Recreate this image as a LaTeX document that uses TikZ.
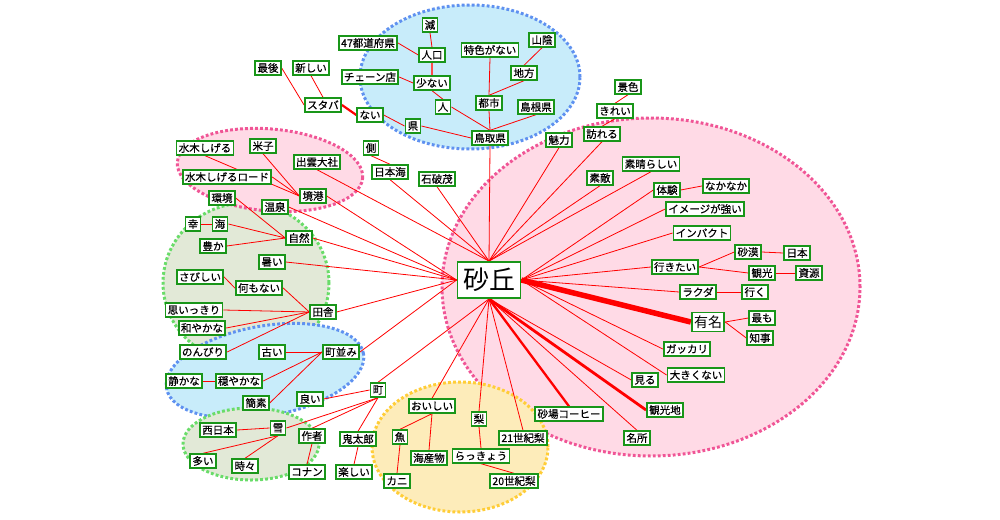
\documentclass[tikz,border=0pt]{standalone}
\usepackage{fontspec}
\setmainfont{Noto Sans CJK JP}
\newfontfamily\termfont{Noto Sans CJK JP}[FakeBold=0.6]
\usepackage{tikz}
\usetikzlibrary{backgrounds}
\pgfdeclarelayer{edgelayer}
\pgfsetlayers{background,edgelayer,main}
\definecolor{termgreen}{RGB}{25,150,25}
\definecolor{bluefill}{RGB}{200,236,250}
\definecolor{bluedot}{RGB}{95,145,240}
\definecolor{pinkfill}{RGB}{255,218,230}
\definecolor{pinkdot}{RGB}{240,85,150}
\definecolor{greenfill}{RGB}{226,233,215}
\definecolor{greendot}{RGB}{105,220,105}
\definecolor{yellowfill}{RGB}{253,236,186}
\definecolor{yellowdot}{RGB}{255,205,55}
\tikzstyle{term} = [rectangle, draw=termgreen, line width=1.8pt, fill=white, inner xsep=2.3pt, inner ysep=1.3pt, minimum height=13.6pt, font=\termfont\fontsize{10.5}{12}\selectfont]
\tikzstyle{link} = [red, line width=0.8pt]
\tikzstyle{group} = [line width=3pt, dash pattern=on 2.8pt off 2.2pt]

\begin{document}
\begin{tikzpicture}[x=1pt, y=-1pt]
  \useasboundingbox (0,0) rectangle (1000,519);

  % groups
  \begin{pgfonlayer}{background}
  \draw[group, fill=bluefill, draw=bluedot] (470,77) ellipse [x radius=110pt, y radius=72pt];
  \draw[group, fill=pinkfill, draw=pinkdot] (651,287) ellipse [x radius=209pt, y radius=169pt];
  \draw[group, fill=greenfill, draw=greendot] (246,283) ellipse [x radius=83pt, y radius=80pt];
  \draw[group, fill=pinkfill, draw=pinkdot, shift={(270,170)}, rotate=-5] (0,0) ellipse [x radius=93pt, y radius=41pt];
  \draw[group, fill=bluefill, draw=bluedot, shift={(265,371)}, rotate=10] (0,0) ellipse [x radius=100pt, y radius=45pt];
  \draw[group, fill=greenfill, draw=greendot] (251,444) ellipse [x radius=68pt, y radius=36pt];
  \draw[group, fill=yellowfill, draw=yellowdot] (460,447) ellipse [x radius=88pt, y radius=65pt];
  \end{pgfonlayer}

  % centre
  \node[term, font=\fontsize{26}{28}\selectfont, minimum width=63pt, minimum height=36pt] (dune) at (489,280) {砂丘};

  % top
  \node[term] (gen) at (430,25) {減};
  \node[term] (todofuken) at (368,43) {47都道府県};
  \node[term] (jinko) at (432,55) {人口};
  \node[term] (tokushoku) at (490,50) {特色がない};
  \node[term] (sanin) at (542,40) {山陰};
  \node[term] (saigo) at (268,68) {最後};
  \node[term] (atarashii) at (311,68) {新しい};
  \node[term] (chain) at (370,77) {チェーン店};
  \node[term] (sukunai) at (432,83) {少ない};
  \node[term] (chiho) at (524,73) {地方};
  \node[term] (sutaba) at (323,105) {スタバ};
  \node[term] (hito) at (443,107) {人};
  \node[term] (toshi) at (489,103) {都市};
  \node[term] (shimane) at (536,107) {島根県};
  \node[term] (nai) at (370,115) {ない};
  \node[term] (ken) at (413,126) {県};
  \node[term] (tottori) at (490,138) {鳥取県};

  % upper left
  \node[term] (mizuki) at (205,148) {水木しげる};
  \node[term] (yonago) at (263,146) {米子};
  \node[term] (izumo) at (317,162) {出雲大社};
  \node[term] (road) at (227,177) {水木しげるロード};
  \node[term] (sakai) at (313,196) {境港};
  \node[term] (gawa) at (371,148) {側};
  \node[term] (nihonkai) at (390,172) {日本海};
  \node[term] (ishiba) at (437,179) {石破茂};

  % left
  \node[term] (kankyo) at (222,198) {環境};
  \node[term] (onsen) at (275,207) {温泉};
  \node[term] (sachi) at (193,224) {幸};
  \node[term] (umi) at (220,224) {海};
  \node[term] (shizen) at (299,238) {自然};
  \node[term] (yutaka) at (213,246) {豊か};
  \node[term] (atsui) at (272,262) {暑い};
  \node[term] (sabishii) at (200,277) {さびしい};
  \node[term] (nanimo) at (259,288) {何もない};
  \node[term] (omoikkiri) at (194,310) {思いっきり};
  \node[term] (inaka) at (323,312) {田舎};
  \node[term] (nagoyaka) at (202,328) {和やかな};
  \node[term] (nonbiri) at (203,352) {のんびり};
  \node[term] (furui) at (272,352) {古い};
  \node[term] (machinami) at (341,352) {町並み};
  \node[term] (shizuka) at (184,381) {静かな};
  \node[term] (odayaka) at (239,381) {穏やかな};
  \node[term] (kanso) at (256,403) {簡素};

  % lower left
  \node[term] (yoi) at (310,399) {良い};
  \node[term] (machi) at (378,390) {町};
  \node[term] (nishinihon) at (218,430) {西日本};
  \node[term] (yuki) at (278,428) {雪};
  \node[term] (sakusha) at (312,436) {作者};
  \node[term] (kitaro) at (358,439) {鬼太郎};
  \node[term] (ooi) at (203,461) {多い};
  \node[term] (tokidoki) at (245,466) {時々};
  \node[term] (konan) at (307,472) {コナン};
  \node[term] (tanoshii) at (354,472) {楽しい};

  % bottom
  \node[term] (oishii) at (432,406) {おいしい};
  \node[term] (nashi) at (479,419) {梨};
  \node[term] (sakana) at (400,437) {魚};
  \node[term] (nijuichi) at (523,438) {21世紀梨};
  \node[term] (kaisanbutsu) at (429,458) {海産物};
  \node[term] (rakkyo) at (481,456) {らっきょう};
  \node[term] (kani) at (397,481) {カニ};
  \node[term] (nijusseiki) at (514,481) {20世紀梨};
  \node[term] (sunaba) at (569,414) {砂場コーヒー};

  % right
  \node[term] (keshiki) at (628,87) {景色};
  \node[term] (kirei) at (615,111) {きれい};
  \node[term] (otozureru) at (602,134) {訪れる};
  \node[term] (miryoku) at (559,140) {魅力};
  \node[term] (subarashii) at (651,164) {素晴らしい};
  \node[term] (suteki) at (600,178) {素敵};
  \node[term] (taiken) at (667,190) {体験};
  \node[term] (nakanaka) at (726,186) {なかなか};
  \node[term] (image) at (705,209) {イメージが強い};
  \node[term] (impact) at (702,233) {インパクト};
  \node[term] (sabaku) at (748,252) {砂漠};
  \node[term] (nihon) at (797,253) {日本};
  \node[term] (ikitai) at (675,267) {行きたい};
  \node[term] (kanko) at (762,273) {観光};
  \node[term] (shigen) at (809,273) {資源};
  \node[term] (rakuda) at (698,292) {ラクダ};
  \node[term] (iku) at (755,292) {行く};
  \node[term, font=\fontsize{14}{16}\selectfont, minimum height=19pt] (yumei) at (708,322) {有名};
  \node[term] (mottomo) at (762,318) {最も};
  \node[term] (chiji) at (760,338) {知事};
  \node[term] (gakkari) at (687,349) {ガッカリ};
  \node[term] (ookikunai) at (696,375) {大きくない};
  \node[term] (miru) at (645,380) {見る};
  \node[term] (kankochi) at (665,410) {観光地};
  \node[term] (meisho) at (637,438) {名所};

  \begin{pgfonlayer}{edgelayer}
  % top
  \draw[link] (gen.south) -- (jinko.north);
  \draw[link] (todofuken.east) -- (jinko.west);
  \draw[link, line width=1.4pt, red!70] (jinko.south) -- (sukunai.north);
  \draw[link] (chain.east) -- (sukunai.west);
  \draw[link] (sukunai.south) -- (hito.north);
  \draw[link] (hito.east) -- (tottori.north);
  \draw[link] (tokushoku.south) -- (toshi.north);
  \draw[link] (sanin.south) -- (chiho.north);
  \draw[link] (chiho.south) -- (toshi.north);
  \draw[link] (toshi.south) -- (tottori.north);
  \draw[link] (shimane.south) -- (tottori.north);
  \draw[link] (saigo.east) -- (sutaba.west);
  \draw[link] (atarashii.south) -- (sutaba.north);
  \draw[link, line width=2.2pt] (sutaba.east) -- (nai.west);
  \draw[link] (nai.east) -- (ken.west);
  \draw[link] (ken.east) -- (tottori.west);
  \draw[link] (tottori.south) -- (dune.north);

  % upper left
  \draw[link] (mizuki.south) -- (sakai.west);
  \draw[link] (yonago.south) -- (sakai.west);
  \draw[link] (road.east) -- (sakai.west);
  \draw[link] (sakai.east) -- (dune.west);
  \draw[link] (izumo.south) -- (dune.north);
  \draw[link] (gawa.south) -- (nihonkai.north);
  \draw[link] (nihonkai.south) -- (dune.north);
  \draw[link] (ishiba.south) -- (dune.north);

  % left
  \draw[link] (kankyo.east) -- (shizen.west);
  \draw[link] (sachi.east) -- (umi.west);
  \draw[link] (umi.east) -- (shizen.west);
  \draw[link] (yutaka.east) -- (shizen.west);
  \draw[link] (shizen.east) -- (dune.west);
  \draw[link] (onsen.east) -- (dune.west);
  \draw[link] (atsui.east) -- (dune.west);
  \draw[link] (sabishii.east) -- (nanimo.west);
  \draw[link] (nanimo.east) -- (inaka.west);
  \draw[link] (omoikkiri.east) -- (inaka.west);
  \draw[link] (nagoyaka.east) -- (inaka.west);
  \draw[link] (nonbiri.east) -- (inaka.west);
  \draw[link] (inaka.east) -- (dune.west);
  \draw[link] (furui.east) -- (machinami.west);
  \draw[link] (shizuka.east) -- (odayaka.west);
  \draw[link] (odayaka.east) -- (machinami.west);
  \draw[link] (kanso.east) -- (machinami.west);
  \draw[link] (machinami.east) -- (dune.west);

  % lower left
  \draw[link] (nishinihon.east) -- (yuki.west);
  \draw[link] (ooi.north) -- (yuki.south);
  \draw[link] (tokidoki.north) -- (yuki.south);
  \draw[link] (yuki.east) -- (machi.south);
  \draw[link] (yoi.east) -- (machi.west);
  \draw[link] (sakusha.north) -- (machi.south);
  \draw[link] (sakusha.south) -- (konan.north);
  \draw[link] (kitaro.north) -- (machi.south);
  \draw[link] (kitaro.south) -- (tanoshii.north);
  \draw[link] (machi.north) -- (dune.south);

  % bottom
  \draw[link] (oishii.north) -- (dune.south);
  \draw[link] (oishii.south) -- (sakana.north);
  \draw[link] (oishii.south) -- (kaisanbutsu.north);
  \draw[link] (sakana.south) -- (kani.north);
  \draw[link] (nashi.north) -- (dune.south);
  \draw[link] (nashi.south) -- (rakkyo.north);
  \draw[link] (rakkyo.south) -- (nijusseiki.north);
  \draw[link] (nijuichi.north) -- (dune.south);
  \draw[link, line width=2.3pt] (sunaba.north) -- (dune.south);

  % right
  \draw[link] (keshiki.south) -- (kirei.north);
  \draw[link] (kirei.south) -- (otozureru.north);
  \draw[link] (otozureru.south) -- (dune.north);
  \draw[link] (miryoku.south) -- (dune.north);
  \draw[link] (subarashii.south) -- (dune.north);
  \draw[link] (suteki.south) -- (dune.north);
  \draw[link] (taiken.west) -- (dune.east);
  \draw[link] (taiken.east) -- (nakanaka.west);
  \draw[link] (image.west) -- (dune.east);
  \draw[link] (impact.west) -- (dune.east);
  \draw[link] (ikitai.west) -- (dune.east);
  \draw[link] (ikitai.east) -- (sabaku.west);
  \draw[link] (sabaku.east) -- (nihon.west);
  \draw[link] (ikitai.east) -- (kanko.west);
  \draw[link] (kanko.east) -- (shigen.west);
  \draw[link] (rakuda.west) -- (dune.east);
  \draw[link] (rakuda.east) -- (iku.west);
  \draw[link, line width=5.5pt] (yumei.west) -- (dune.east);
  \draw[link] (yumei.east) -- (mottomo.west);
  \draw[link] (yumei.east) -- (chiji.west);
  \draw[link] (gakkari.west) -- (dune.east);
  \draw[link] (ookikunai.west) -- (dune.east);
  \draw[link] (miru.west) -- (dune.south);
  \draw[link, line width=2.8pt] (kankochi.west) -- (dune.south);
  \draw[link] (meisho.north) -- (dune.south);
  \end{pgfonlayer}
\end{tikzpicture}
\end{document}
